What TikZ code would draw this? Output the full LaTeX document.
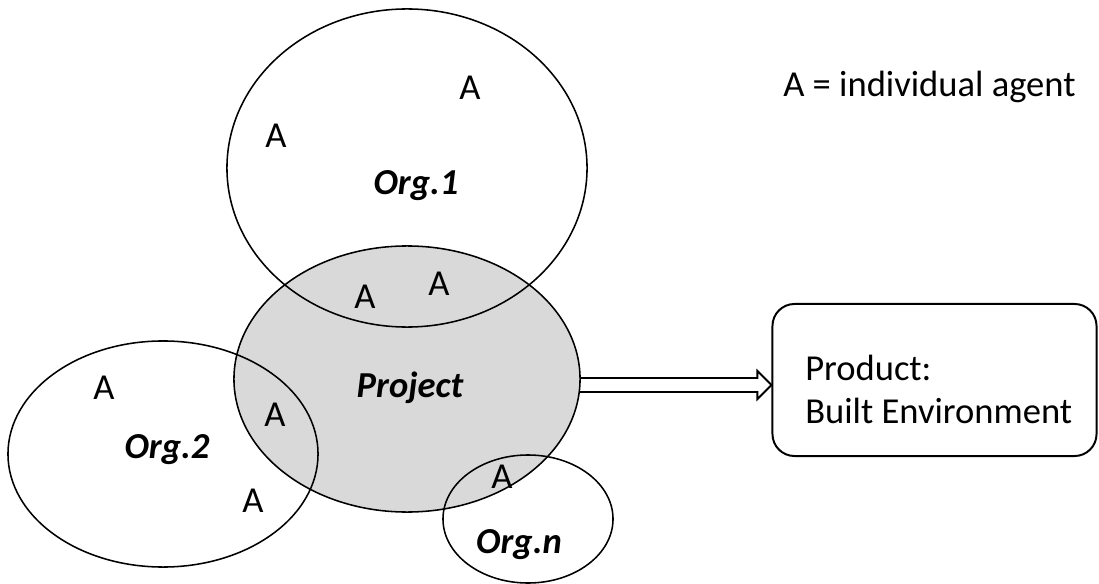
\documentclass[tikz,border=0pt]{standalone}
\usepackage{fontspec}
\setmainfont{Carlito}
\usetikzlibrary{shapes.geometric,calc}
\definecolor{projgray}{HTML}{D9D9D9}

\begin{document}
\begin{tikzpicture}[x=0.025cm, y=-0.025cm,
  font=\fontsize{26}{30.5}\selectfont,
  org/.style={ellipse, draw, line width=1.1pt, inner sep=0pt, outer sep=0pt},
  agent/.style={anchor=base, inner sep=0pt},
  orglabel/.style={anchor=base, inner sep=0pt, font=\fontsize{26}{30.5}\selectfont\bfseries\itshape},
  outarrow/.style={line width=1.4pt, fill=white, line join=miter}]

\useasboundingbox (0,0) rectangle (1099,584);

%Output box
\node[draw, line width=1.4pt, rounded corners=0.55cm, minimum width=8.1cm, minimum height=3.8cm] (box) at (934.5,380) {};
\node[anchor=base west, inner sep=0pt, align=left] (product) at (805,423) {Product:\\Built Environment};

%Block arrow from the project to its product
\coordinate (tip) at ($(box.west)+(0,5)$);
\draw[outarrow] (578,378) -- ($(tip)+(-14,-7)$) -- ($(tip)+(-14,-14)$) -- (tip)
  -- ($(tip)+(-14,14)$) -- ($(tip)+(-14,7)$) -- (578,392);

%Project, shaded, with the organisations drawn over it
\node[org, fill=projgray, minimum width=8.65cm, minimum height=6.65cm] (proj) at (407,379) {};
\node[org, minimum width=9cm, minimum height=7.95cm] (org1) at (407,168) {};
\node[org, minimum width=7.75cm, minimum height=5.65cm] (org2) at (163,454) {};
\node[org, minimum width=4.25cm, minimum height=3.2cm] (orgn) at (528,519) {};

%Labels
\node[orglabel] (org1lbl) at (416,195) {Org.1};
\node[orglabel] (org2lbl) at (167,458) {Org.2};
\node[orglabel] (orgnlbl) at (519,553) {Org.n};
\node[orglabel] (projlbl) at (410,397) {Project};

%Individual agents
\node[agent] (a1) at (276,148) {A};
\node[agent] (a2) at (470,100) {A};
\node[agent] (a3) at (365,308) {A};
\node[agent] (a4) at (439,295) {A};
\node[agent] (a5) at (104,399) {A};
\node[agent] (a6) at (275,426) {A};
\node[agent] (a7) at (253,512) {A};
\node[agent] (a8) at (502,488) {A};

%Legend
\node[anchor=base west, inner sep=0pt] (legend) at (783,97) {A = individual agent};

\end{tikzpicture}
\end{document}
